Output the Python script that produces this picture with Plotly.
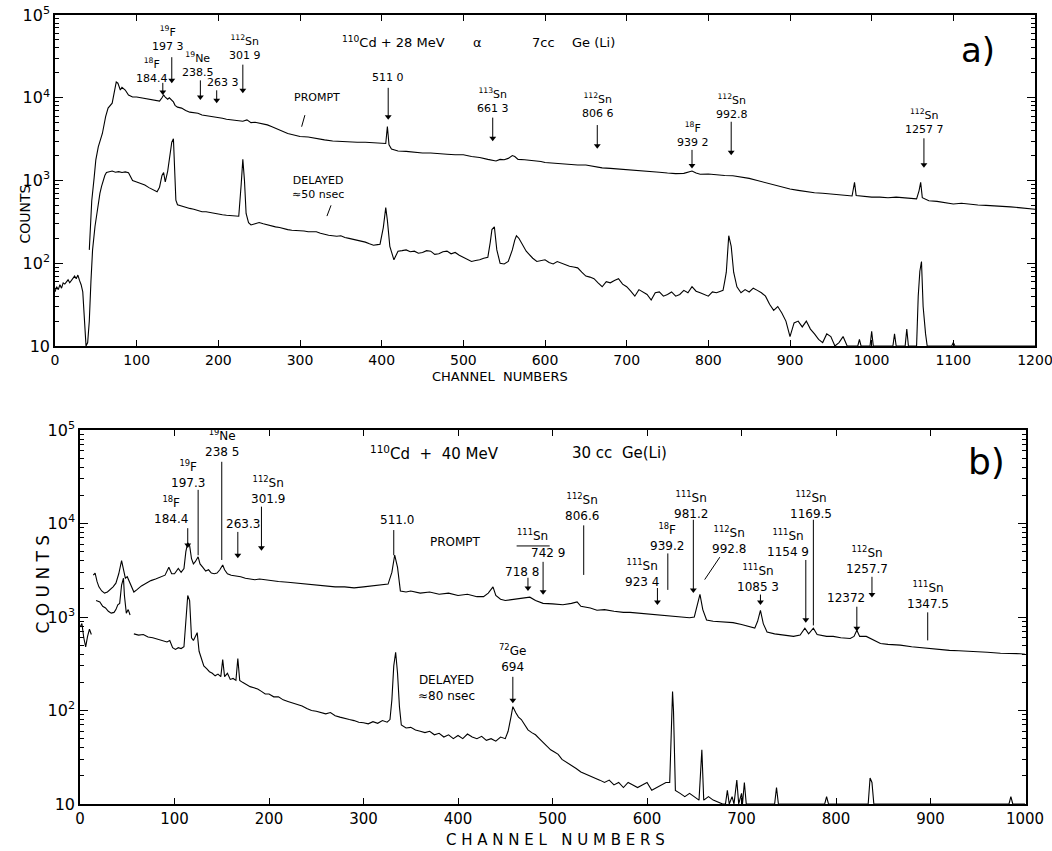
import plotly.graph_objects as go

# ---------------- panel a) 110Cd + 28 MeV alpha, 7cc Ge(Li) ----------------
a_prompt_ch = [42, 45, 48, 50, 53, 58, 62, 65, 70, 73, 75, 77, 80, 82, 86, 90, 95, 100, 105, 110,
               115, 120, 125, 128, 131, 133, 135, 138, 140, 143, 145, 147, 150, 155, 160, 165, 170, 175, 180, 185,
               190, 195, 200, 205, 210, 215, 220, 225, 230, 235, 240, 245, 250, 255, 260, 265, 270, 275, 280, 285,
               290, 295, 300, 310, 320, 330, 340, 350, 360, 370, 380, 390, 400, 405, 407, 409, 412, 420, 430, 440,
               450, 460, 470, 480, 490, 500, 510, 520, 530, 535, 540, 545, 550, 555, 560, 563, 567, 575, 585, 595,
               600, 610, 620, 630, 640, 650, 660, 670, 680, 690, 700, 710, 720, 730, 740, 750, 760, 770, 775, 780,
               785, 790, 800, 810, 820, 830, 840, 850, 860, 870, 880, 890, 900, 910, 920, 930, 940, 950, 960, 970,
               976, 979, 981, 990, 1000, 1010, 1020, 1030, 1040, 1050, 1055, 1058, 1060, 1062, 1070, 1080, 1090, 1100, 1110, 1120,
               1130, 1140, 1150, 1160, 1170, 1180, 1190, 1200]
a_prompt_counts = [145, 570, 1100, 1780, 2550, 3700, 5900, 7500, 8600, 11700, 15500, 15000, 12400, 13400, 12400, 10800, 10200, 10200, 10000, 9900,
                   9600, 9400, 9200, 9100, 10000, 10800, 10200, 9600, 10000, 9400, 8900, 8100, 7700, 7500, 7000, 6700, 6600, 6500, 6200, 6100,
                   5900, 5800, 5700, 5650, 5500, 5450, 5400, 5300, 5200, 5400, 5000, 5050, 4950, 4800, 4700, 4500, 4300, 4050, 3850, 3700,
                   3600, 3500, 3400, 3350, 3200, 3100, 3000, 2950, 2950, 2900, 2900, 2850, 2850, 2800, 4500, 2700, 2400, 2270, 2250, 2200,
                   2150, 2150, 2100, 2080, 2050, 2050, 1950, 1900, 1800, 1750, 1720, 1800, 1780, 1850, 2000, 1950, 1800, 1780, 1750, 1700,
                   1650, 1620, 1600, 1560, 1540, 1540, 1480, 1420, 1400, 1380, 1340, 1330, 1300, 1280, 1260, 1230, 1210, 1220, 1250, 1300,
                   1230, 1190, 1200, 1170, 1150, 1140, 1110, 1060, 1000, 940, 880, 830, 790, 760, 730, 710, 700, 690, 670, 660,
                   650, 950, 660, 640, 630, 630, 620, 630, 615, 610, 600, 750, 950, 620, 570, 560, 545, 520, 530, 515,
                   505, 500, 495, 490, 480, 470, 460, 450]

a_delayed_ch = [0, 2, 4, 6, 8, 10, 12, 14, 16, 18, 20, 22, 24, 26, 28, 30, 32, 34, 36, 38,
                40, 42, 44, 46, 49, 51, 53, 55, 57, 59, 61, 63, 66, 70, 74, 78, 82, 86, 90, 93,
                95, 100, 105, 110, 115, 120, 125, 128, 131, 133, 135, 138, 141, 143, 145, 146, 148, 150, 155, 160,
                165, 170, 175, 180, 185, 190, 195, 200, 205, 210, 215, 220, 225, 228, 230, 232, 234, 237, 240, 245,
                250, 255, 260, 265, 270, 275, 280, 285, 290, 295, 300, 305, 310, 315, 320, 325, 330, 335, 340, 345,
                350, 355, 360, 365, 370, 375, 380, 385, 390, 395, 398, 402, 405, 407, 410, 415, 420, 425, 430, 435,
                440, 445, 450, 455, 460, 465, 470, 475, 480, 485, 490, 495, 500, 505, 510, 515, 520, 525, 530, 533,
                535, 538, 541, 545, 550, 555, 560, 563, 565, 568, 573, 577, 580, 585, 590, 595, 600, 605, 610, 615,
                620, 625, 630, 635, 640, 645, 650, 655, 660, 665, 670, 675, 680, 685, 690, 695, 700, 705, 710, 715,
                720, 725, 730, 735, 740, 745, 750, 755, 760, 765, 770, 775, 780, 785, 790, 795, 800, 805, 810, 815,
                818, 820, 822, 825, 828, 831, 835, 840, 845, 850, 855, 860, 865, 870, 875, 880, 885, 890, 895, 900,
                905, 910, 915, 920, 925, 930, 935, 940, 945, 950, 955, 960, 965, 970, 983, 985, 987, 998, 1000, 1002,
                1026, 1028, 1030, 1041, 1043, 1045, 1055, 1057, 1059, 1061, 1063, 1066, 1068, 1098, 1100, 1102, 1120, 1200]
a_delayed_counts = [45, 52, 48, 55, 50, 58, 56, 60, 63, 58, 62, 66, 70, 65, 72, 62, 55, 45, 20, 10,
                    11, 20, 60, 145, 280, 400, 550, 700, 850, 1000, 1150, 1250, 1280, 1300, 1260, 1280, 1250, 1270, 1240, 1100,
                    1000, 960, 920, 880, 820, 770, 730, 830, 1150, 1250, 960, 1300, 2200, 2900, 3200, 1500, 580, 510, 490, 470,
                    460, 450, 430, 420, 420, 410, 400, 390, 385, 380, 375, 375, 370, 900, 1800, 1000, 400, 310, 290, 300,
                    310, 300, 290, 285, 275, 270, 260, 255, 250, 248, 250, 245, 240, 238, 240, 230, 222, 218, 215, 212,
                    215, 205, 200, 195, 190, 185, 180, 172, 165, 168, 170, 270, 470, 330, 160, 110, 140, 142, 145, 138,
                    140, 132, 135, 142, 140, 128, 130, 138, 140, 130, 135, 125, 118, 110, 105, 108, 110, 115, 118, 180,
                    255, 275, 145, 100, 98, 105, 145, 190, 215, 200, 160, 140, 130, 115, 105, 108, 110, 102, 98, 105,
                    100, 95, 92, 90, 88, 78, 70, 68, 65, 58, 52, 60, 58, 62, 65, 56, 52, 46, 40, 48,
                    45, 42, 36, 44, 45, 40, 42, 45, 40, 42, 47, 44, 52, 46, 44, 42, 40, 45, 44, 46,
                    47, 60, 78, 215, 160, 78, 52, 44, 48, 45, 50, 47, 44, 40, 32, 27, 30, 25, 20, 13,
                    19, 20, 17, 20, 16, 14, 12, 11, 14, 13, 10, 11, 13, 10, 10, 12, 10, 10, 15, 10,
                    10, 14, 10, 10, 16, 10, 10, 40, 80, 105, 30, 14, 10, 10, 11, 10, 10, 10]

# ---------------- panel b) 110Cd + 40 MeV, 30 cc Ge(Li) ----------------
b_prompt_ch = [14, 16, 18, 20, 23, 26, 29, 32, 35, 38, 41, 44, 46, 48, 50, 52, 55, 57, 60, 65,
               70, 75, 80, 85, 90, 94, 97, 100, 104, 107, 110, 112, 114, 116, 118, 120, 122, 125, 127, 130,
               133, 136, 139, 142, 145, 148, 151, 153, 156, 160, 165, 170, 175, 180, 185, 190, 195, 200, 210, 220,
               230, 240, 250, 260, 270, 280, 290, 300, 310, 320, 326, 330, 333, 336, 339, 345, 350, 360, 370, 380,
               390, 400, 410, 420, 427, 432, 437, 440, 445, 450, 460, 470, 476, 482, 490, 500, 511, 520, 526, 530,
               540, 547, 555, 565, 575, 582, 590, 600, 610, 617, 625, 635, 645, 650, 653, 656, 659, 663, 670, 680,
               691, 700, 710, 714, 717, 720, 723, 727, 735, 745, 755, 762, 767, 771, 776, 780, 790, 797, 805, 815,
               819, 822, 825, 832, 840, 847, 855, 868, 880, 890, 900, 910, 920, 930, 945, 960, 974, 985, 995, 1000]
b_prompt_counts = [2800, 2950, 2400, 2100, 1900, 1800, 1850, 1950, 2100, 2300, 2900, 4000, 3200, 2600, 2700, 2400, 2000, 1850, 1950, 2150,
                   2300, 2450, 2550, 2650, 2800, 3400, 2900, 2900, 3300, 3000, 3300, 5000, 6200, 5800, 4200, 3700, 3900, 4400, 3700, 3400,
                   3100, 3200, 2950, 2900, 2950, 3200, 3600, 3200, 2900, 2800, 2750, 2700, 2600, 2550, 2500, 2550, 2500, 2450, 2400, 2350,
                   2300, 2250, 2200, 2150, 2100, 2100, 2050, 2100, 2150, 2200, 2250, 3000, 4600, 3400, 1900, 1850, 1900, 1800, 1850, 1750,
                   1800, 1700, 1750, 1650, 1650, 1800, 2100, 1700, 1550, 1500, 1550, 1600, 1630, 1500, 1400, 1380, 1350, 1400, 1450, 1300,
                   1250, 1180, 1200, 1150, 1120, 1120, 1100, 1080, 1060, 1050, 1020, 990, 980, 1000, 1300, 1750, 1200, 930, 900, 880,
                   870, 830, 780, 760, 900, 1180, 850, 690, 660, 640, 620, 640, 760, 660, 760, 650, 620, 620, 600, 590,
                   620, 720, 620, 620, 560, 520, 510, 500, 480, 470, 455, 445, 440, 435, 430, 420, 410, 410, 405, 400]

b_delayed_ch = [0, 2, 4, 6, 8, 10, 12, None, 17, 21, 24, 27, 30, 33, 36, 38, 40, 42, 44, 46,
                47, 49, 51, 53, None, 57, 62, 67, 72, 77, 82, 87, 92, 95, 98, 101, 104, 107, 110, 112,
                114, 116, 118, 120, 122, 124, 126, 128, 131, 134, 137, 140, 143, 146, 149, 151, 153, 156, 159, 162,
                165, 167, 169, 172, 176, 180, 184, 188, 192, 196, 200, 205, 210, 215, 220, 225, 230, 235, 240, 245,
                250, 255, 260, 265, 270, 275, 280, 285, 290, 295, 300, 305, 310, 315, 320, 325, 328, 330, 332, 334,
                336, 338, 340, 345, 350, 355, 360, 365, 370, 375, 380, 385, 390, 395, 400, 405, 410, 415, 420, 425,
                430, 435, 440, 445, 450, 453, 456, 458, 461, 464, 467, 470, 474, 478, 482, 486, 490, 494, 498, 502,
                506, 510, 515, 520, 525, 530, 535, 540, 545, 550, 555, 560, 565, 570, 575, 580, 585, 590, 595, 600,
                605, 610, 615, 620, 624, 626, 627, 628, 629, 630, 635, 640, 645, 650, 655, 658, 660, 665, 670, 680,
                683, 685, 687, 690, 692, 695, 697, 700, 701, 703, 705, 735, 737, 739, 788, 790, 792, 834, 836, 838,
                840, 983, 985, 987, 1000]
b_delayed_counts = [780, 850, 600, 480, 620, 740, 650, None, 1500, 1450, 1300, 1250, 1150, 1100, 1120, 1200, 1350, 1400, 2200, 2600,
                    1700, 1100, 1200, 1050, None, 660, 640, 650, 610, 600, 580, 560, 540, 560, 470, 450, 470, 460, 480, 900,
                    1700, 1500, 600, 560, 620, 680, 430, 380, 300, 280, 260, 250, 235, 245, 230, 350, 230, 250, 215, 220,
                    210, 360, 210, 200, 190, 180, 175, 170, 160, 150, 150, 140, 140, 130, 125, 120, 115, 112, 105, 100,
                    98, 95, 92, 95, 88, 85, 82, 80, 78, 75, 74, 72, 76, 73, 78, 75, 80, 130, 300, 420,
                    250, 110, 70, 65, 66, 62, 60, 58, 60, 55, 57, 52, 55, 50, 54, 50, 56, 52, 50, 53,
                    48, 50, 47, 52, 50, 60, 85, 110, 95, 85, 80, 72, 62, 58, 55, 50, 46, 42, 38, 36,
                    34, 30, 28, 26, 24, 22, 21, 20, 19, 18, 17, 18, 16, 17, 15, 17, 16, 15, 16, 17,
                    14, 15, 16, 17, 17, 80, 160, 100, 40, 14, 13, 12, 13, 12, 11, 38, 11, 12, 11, 10,
                    10, 14, 10, 12, 10, 18, 10, 13, 10, 17, 10, 10, 15, 10, 10, 12, 10, 10, 19, 17,
                    10, 10, 12, 10, 10]

# ---------------- axes ----------------
a_x_ticks = list(range(0, 1201, 100))
b_x_ticks = list(range(0, 1001, 100))
y_tick_values = [10, 100, 1000, 10000, 100000]
y_tick_text = ["10", "10<sup>2</sup>", "10<sup>3</sup>", "10<sup>4</sup>", "10<sup>5</sup>"]
y_minor_values = [m * 10 ** d for d in range(1, 5) for m in range(2, 10)]

W, H = 1052, 851
INK = "black"
FONT = "DejaVu Sans"

fig = go.Figure()
line_style = dict(color=INK, width=1.1)
fig.add_trace(go.Scatter(x=a_prompt_ch, y=a_prompt_counts, mode="lines", line=line_style, xaxis="x", yaxis="y"))
fig.add_trace(go.Scatter(x=a_delayed_ch, y=a_delayed_counts, mode="lines", line=line_style, xaxis="x", yaxis="y"))
fig.add_trace(go.Scatter(x=b_prompt_ch, y=b_prompt_counts, mode="lines", line=line_style, xaxis="x2", yaxis="y2"))
fig.add_trace(go.Scatter(x=b_delayed_ch, y=b_delayed_counts, mode="lines", line=line_style, xaxis="x2", yaxis="y2"))

def xaxis_style(domain, rng, ticks, anchor, size):
    return dict(domain=domain, range=rng, anchor=anchor, tickvals=ticks, ticks="inside", ticklen=6,
                tickwidth=1.2, tickcolor=INK, mirror="ticks", showline=True, linecolor=INK, linewidth=1.6,
                showgrid=False, zeroline=False, automargin=False, ticklabeloverflow="allow",
                tickfont=dict(size=size, family=FONT, color=INK))

def yaxis_style(domain, anchor):
    return dict(domain=domain, type="log", range=[1, 5], anchor=anchor, tickvals=y_tick_values,
                ticktext=y_tick_text, ticks="inside", ticklen=8, tickwidth=1.2, tickcolor=INK, mirror="ticks",
                showline=True, linecolor=INK, linewidth=1.6, showgrid=False, zeroline=False, automargin=False,
                minor=dict(tickvals=y_minor_values, ticks="inside", ticklen=4, tickcolor=INK, showgrid=False),
                tickfont=dict(size=16, family=FONT, color=INK))

fig.update_layout(
    width=W, height=H, margin=dict(l=0, r=0, t=0, b=0, autoexpand=False),
    paper_bgcolor="white", plot_bgcolor="white", showlegend=False,
    font=dict(family=FONT, color=INK),
    xaxis=xaxis_style([55 / W, 1035 / W], [0, 1200], a_x_ticks, "y", 14),
    yaxis=yaxis_style([1 - 346 / H, 1 - 15 / H], "x"),
    xaxis2=xaxis_style([80 / W, 1026 / W], [0, 1001], b_x_ticks, "y2", 15),
    yaxis2=yaxis_style([1 - 804 / H, 1 - 430 / H], "x2"),
)

# ---------------- labels ----------------
def text(t, x, y, ax, size=12, anchor="center"):
    fig.add_annotation(text=t, x=x, y=y, xref=ax[0], yref=ax[1], showarrow=False, xanchor=anchor,
                       font=dict(size=size, family=FONT, color=INK))

def pointers(items, xa, ya):
    # items: (x_tail, log_tail, x_tip, log_tip, arrowhead)
    xs, ys, hx, hy = [], [], [], []
    for x0, l0, x1, l1, head in items:
        xs += [x0, x1, None]
        ys += [10 ** l0, 10 ** l1, None]
        if head:
            hx.append(x1)
            hy.append(10 ** l1)
    fig.add_trace(go.Scatter(x=xs, y=ys, mode="lines", line=dict(color=INK, width=1), xaxis=xa, yaxis=ya,
                             hoverinfo="skip"))
    fig.add_trace(go.Scatter(x=hx, y=hy, mode="markers", marker=dict(symbol="triangle-down", size=6, color=INK),
                             xaxis=xa, yaxis=ya, hoverinfo="skip"))

A = ("x", "y")
B = ("x2", "y2")

a_labels = [
    ("<sup>18</sup>F<br>184.4", 119, 4.335), ("<sup>19</sup>F<br>197 3", 138, 4.72),
    ("<sup>19</sup>Ne<br>238.5", 175, 4.40), ("263 3", 206, 4.18),
    ("<sup>112</sup>Sn<br>301 9", 233, 4.61), ("511 0", 408, 4.24),
    ("<sup>113</sup>Sn<br>661 3", 536, 3.97), ("<sup>112</sup>Sn<br>806 6", 665, 3.91),
    ("<sup>18</sup>F<br>939 2", 781, 3.55), ("<sup>112</sup>Sn<br>992.8", 829, 3.89),
    ("<sup>112</sup>Sn<br>1257 7", 1065, 3.71), ("PROMPT", 321, 4.0),
    ("DELAYED<br>≈50 nsec", 322, 2.91),
]
for t, x, y in a_labels:
    text(t, x, y, A, 11)
a_pointers = [(132, 4.18, 132, 4.07, True), (143, 4.49, 143, 4.21, True), (178, 4.21, 178, 4.01, True),
              (198, 4.09, 198, 3.97, True), (230, 4.40, 230, 4.09, True), (408, 4.12, 408, 3.77, True),
              (536, 3.76, 536, 3.51, True), (664, 3.67, 664, 3.42, True), (780, 3.37, 780, 3.18, True),
              (828, 3.71, 828, 3.34, True), (1064, 3.51, 1064, 3.19, True),
              (306, 3.79, 302, 3.65, False), (338, 2.70, 333, 2.57, False)]
pointers(a_pointers, "x", "y")
text("<sup>110</sup>Cd + 28 MeV", 349, 4.67, A, 13, "left")
text("α", 517, 4.67, A, 13)
text("7cc", 582, 4.67, A, 13, "left")
text("Ge (Li)", 631, 4.67, A, 13, "left")
text("a)", 1130, 4.58, A, 34)

b_labels = [
    ("<sup>18</sup>F<br>184.4", 96, 4.14), ("<sup>19</sup>F<br>197.3", 114, 4.53),
    ("<sup>19</sup>Ne<br>238 5", 150, 4.86), ("263.3", 172, 4.0),
    ("<sup>112</sup>Sn<br>301.9", 199, 4.36), ("511.0", 335, 4.04), ("PROMPT", 397, 3.80),
    ("<sup>111</sup>Sn", 479, 3.88), ("742 9", 495, 3.68), ("718 8", 468, 3.48),
    ("<sup>112</sup>Sn<br>806.6", 531, 4.18), ("<sup>111</sup>Sn<br>923 4", 595, 3.47),
    ("<sup>18</sup>F<br>939.2", 621, 3.86), ("<sup>111</sup>Sn<br>981.2", 647, 4.2),
    ("<sup>112</sup>Sn<br>992.8", 687, 3.82), ("<sup>111</sup>Sn<br>1085 3", 717, 3.42),
    ("<sup>111</sup>Sn<br>1154 9", 749, 3.79), ("<sup>112</sup>Sn<br>1169.5", 774, 4.2),
    ("12372", 811, 3.20), ("<sup>112</sup>Sn<br>1257.7", 833, 3.61),
    ("<sup>111</sup>Sn<br>1347.5", 897, 3.24), ("DELAYED<br>≈80 nsec", 388, 2.24),
    ("<sup>72</sup>Ge<br>694", 458, 2.56),
]
for t, x, y in b_labels:
    text(t, x, y, B, 12)
b_pointers = [(114, 3.95, 114, 3.77, True), (125, 4.36, 125, 3.66, False), (150, 4.66, 150, 3.61, False),
              (167, 3.91, 167, 3.66, True), (192, 4.18, 192, 3.74, True), (332, 3.93, 332, 3.66, False),
              (474, 3.42, 474, 3.31, True), (490, 3.59, 490, 3.27, True), (533, 3.98, 533, 3.45, False),
              (611, 3.31, 611, 3.16, True), (622, 3.68, 622, 3.29, False), (649, 4.04, 649, 3.29, True),
              (720, 3.24, 720, 3.16, True), (768, 3.61, 768, 2.97, True), (776, 4.04, 776, 2.91, False),
              (822, 3.11, 822, 2.88, True), (838, 3.43, 838, 3.24, True), (897, 3.05, 897, 2.75, False),
              (458, 2.36, 458, 2.11, True), (677, 3.64, 661, 3.40, False), (462, 3.76, 497, 3.76, False)]
pointers(b_pointers, "x2", "y2")
text("<sup>110</sup>Cd  +  40 MeV", 305, 4.75, B, 15, "left")
text("30 cc  Ge(Li)", 518, 4.75, B, 15, "left")
text("b)", 959, 4.66, B, 36)

# axis titles
fig.add_annotation(text="COUNTS", x=15 / W, y=1 - 183 / H, xref="paper", yref="paper", showarrow=False,
                   textangle=-90, font=dict(size=14, family=FONT, color=INK))
fig.add_annotation(text="C O U N T S", x=30 / W, y=1 - 636 / H, xref="paper", yref="paper", showarrow=False,
                   textangle=-90, font=dict(size=17, family=FONT, color=INK))
fig.add_annotation(text="CHANNEL  NUMBERS", x=500 / W, y=1 - 376 / H, xref="paper", yref="paper",
                   showarrow=False, font=dict(size=13, family=FONT, color=INK))
fig.add_annotation(text="C H A N N E L   N U M B E R S", x=555 / W, y=0.0, yanchor="bottom",
                   xref="paper", yref="paper", showarrow=False, font=dict(size=15, family=FONT, color=INK))

fig.write_html("out.html")
